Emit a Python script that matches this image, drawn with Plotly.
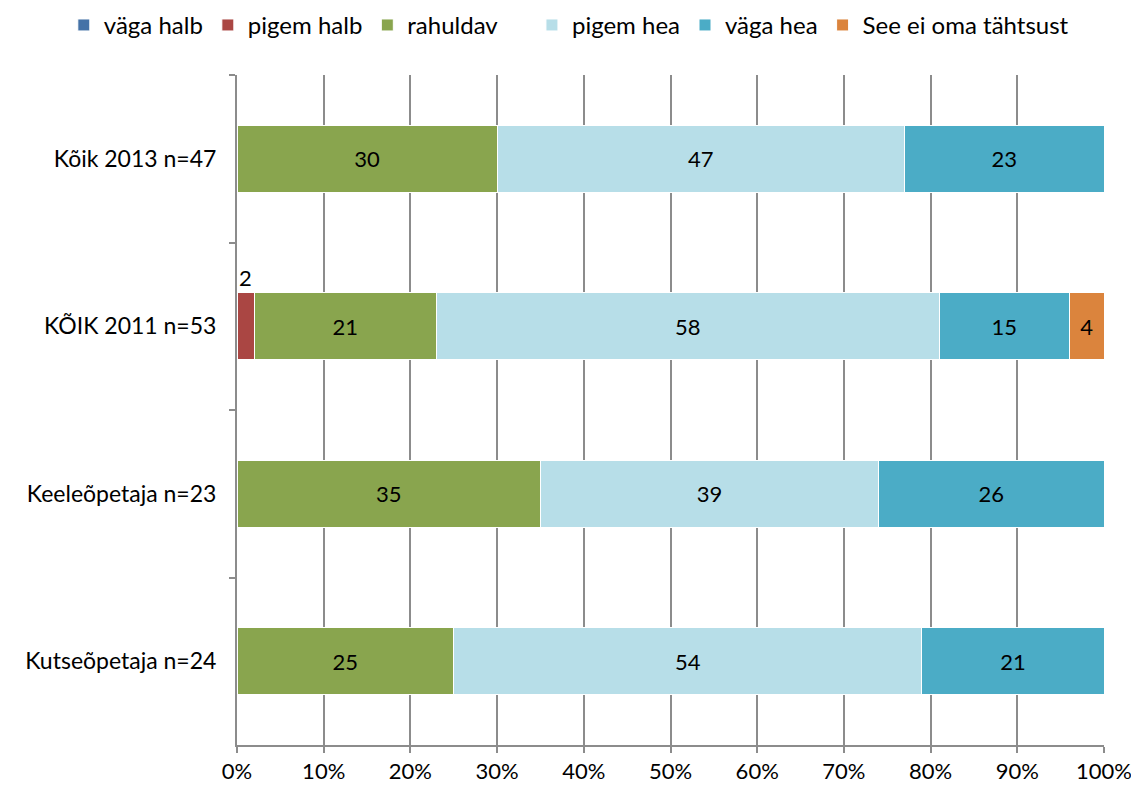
import plotly.graph_objects as go

categories = ["Kõik 2013 n=47", "KÕIK 2011 n=53", "Keeleõpetaja n=23", "Kutseõpetaja n=24"]
series_names = ["väga halb", "pigem halb", "rahuldav", "pigem hea", "väga hea", "See ei oma tähtsust"]
vaga_halb = [None, None, None, None]
pigem_halb = [None, 2, None, None]
rahuldav = [30, 21, 35, 25]
pigem_hea = [47, 58, 39, 54]
vaga_hea = [23, 15, 26, 21]
see_ei = [None, 4, None, None]
x_ticks = [0, 10, 20, 30, 40, 50, 60, 70, 80, 90, 100]
x_tick_labels = [f"{v}%" for v in x_ticks]

colors = ["#4572A7", "#AA4643", "#89A54E", "#B7DEE8", "#4BACC6", "#DB843D"]
all_series = [vaga_halb, pigem_halb, rahuldav, pigem_hea, vaga_hea, see_ei]
FONT = "Lato, Liberation Sans, sans-serif"

fig = go.Figure()
for k, (name, vals, col) in enumerate(zip(series_names, all_series, colors)):
    show_inside = name != "pigem halb"
    fig.add_trace(go.Bar(
        y=categories, x=vals,
        name=name, orientation="h", width=0.4,
        legend="legend" if k < 3 else "legend2",
        marker=dict(color=col, line=dict(color="white", width=1)),
        text=[(str(v) if (v is not None and show_inside) else "") for v in vals],
        textposition="inside", insidetextanchor="middle",
        textfont=dict(family=FONT, size=22, color="black"),
        constraintext="none",
        hoverinfo="x+name",
    ))

# outside label for the small segment
for i, v in enumerate(pigem_halb):
    if v is not None:
        start = (vaga_halb[i] or 0)
        fig.add_annotation(x=start + v / 2, y=categories[i], text=str(v),
                           showarrow=False, yshift=49,
                           font=dict(family=FONT, size=22, color="black"))

legend_common = dict(orientation="h", xref="container", xanchor="left",
                     yref="container", y=0.978, yanchor="middle",
                     font=dict(family=FONT, size=24), itemwidth=30,
                     traceorder="normal", bgcolor="rgba(0,0,0,0)")

fig.update_layout(
    barmode="stack",
    width=1139, height=789,
    margin=dict(l=229, r=43, t=67, b=52),
    plot_bgcolor="white", paper_bgcolor="white",
    font=dict(family=FONT, size=22, color="black"),
    legend=dict(x=0.049, **legend_common),
    legend2=dict(x=0.46, **legend_common),
    showlegend=True,
)
fig.update_xaxes(range=[0, 100], tickvals=x_ticks, ticktext=x_tick_labels,
                 showgrid=True, gridcolor="#8C8C8C", gridwidth=2,
                 showline=True, linecolor="#8C8C8C", linewidth=2,
                 ticks="outside", ticklen=6, tickcolor="#8C8C8C", tickwidth=2,
                 tickfont=dict(family=FONT, size=22), zeroline=False,
                 automargin=False)
fig.update_yaxes(categoryorder="array", categoryarray=categories, autorange="reversed",
                 showline=True, linecolor="#8C8C8C", linewidth=2,
                 ticks="outside", ticklen=6, tickcolor="#8C8C8C", tickwidth=2,
                 tickson="boundaries", showgrid=False, ticklabelstandoff=14,
                 tickfont=dict(family=FONT, size=23), automargin=False)

fig.write_html("out.html")
